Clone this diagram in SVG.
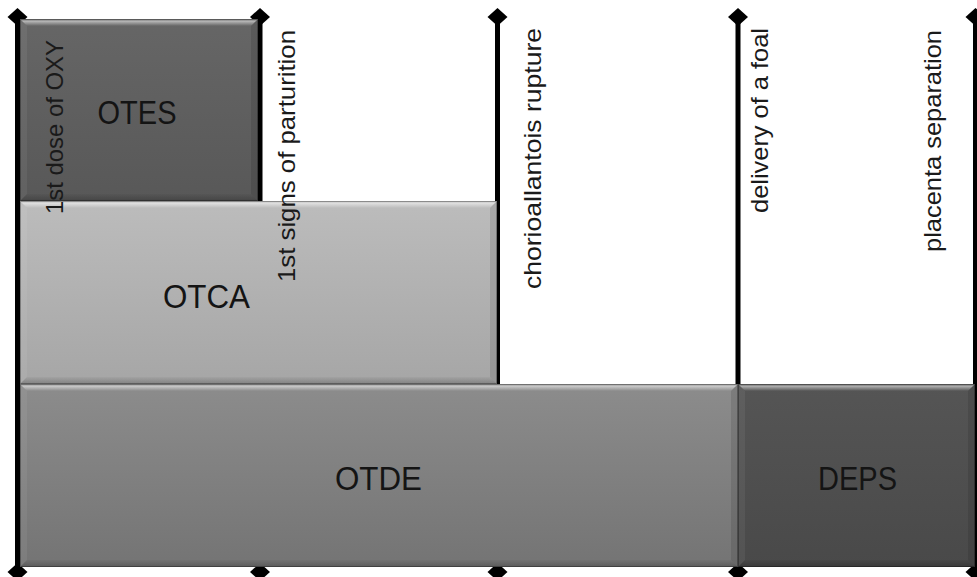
<svg xmlns="http://www.w3.org/2000/svg" width="977" height="577" viewBox="0 0 977 577">
  <defs>
    <linearGradient id="gOTES" x1="0" y1="0" x2="0" y2="1">
      <stop offset="0" stop-color="#666666"/>
      <stop offset="1" stop-color="#585858"/>
    </linearGradient>
    <linearGradient id="gOTCA" x1="0" y1="0" x2="0" y2="1">
      <stop offset="0" stop-color="#bcbcbc"/>
      <stop offset="1" stop-color="#a6a6a6"/>
    </linearGradient>
    <linearGradient id="gOTDE" x1="0" y1="0" x2="0" y2="1">
      <stop offset="0" stop-color="#8c8c8c"/>
      <stop offset="1" stop-color="#747474"/>
    </linearGradient>
    <linearGradient id="gDEPS" x1="0" y1="0" x2="0" y2="1">
      <stop offset="0" stop-color="#555555"/>
      <stop offset="1" stop-color="#494949"/>
    </linearGradient>
    <linearGradient id="hlTop" x1="0" y1="0" x2="0" y2="1">
      <stop offset="0" stop-color="#ffffff" stop-opacity="0.1"/>
      <stop offset="0.35" stop-color="#ffffff" stop-opacity="0.5"/>
      <stop offset="1" stop-color="#ffffff" stop-opacity="0"/>
    </linearGradient>
    <linearGradient id="shBot" x1="0" y1="0" x2="0" y2="1">
      <stop offset="0" stop-color="#000000" stop-opacity="0.03"/>
      <stop offset="1" stop-color="#000000" stop-opacity="0.22"/>
    </linearGradient>
    <marker id="diamond" markerUnits="userSpaceOnUse" markerWidth="22" markerHeight="20" refX="11" refY="10" orient="0" viewBox="0 0 22 20">
      <path d="M11 1 L21 10 L11 19 L1 10 Z" fill="#000"/>
    </marker>
  </defs>
  <style>
    .ev { stroke:#000; stroke-width:5; fill:none; marker-start:url(#diamond); marker-end:url(#diamond); }
    .edge { fill:none; stroke:#000; stroke-opacity:0.3; stroke-width:1; }
    .bt { fill:url(#hlTop); }
    .bl { fill:#ffffff; fill-opacity:0.06; }
    .br { fill:#000000; fill-opacity:0.1; }
    .bb { fill:url(#shBot); }
    .lbl { font-family:"Liberation Sans", Arial, sans-serif; font-size:33px; fill:#141414; text-anchor:middle; }
    .evl { font-family:"Liberation Sans", Arial, sans-serif; font-size:24px; fill:#1a1a1a; }
  </style>

  <g id="connectors">
    <line class="ev" x1="17.5" y1="17" x2="17.5" y2="572"/>
    <line class="ev" x1="260" y1="17" x2="260" y2="572"/>
    <line class="ev" x1="497.5" y1="17" x2="497.5" y2="572"/>
    <line class="ev" x1="738" y1="17" x2="738" y2="572"/>
    <line class="ev" x1="975.5" y1="17" x2="975.5" y2="572"/>
  </g>

  <g id="node-OTES">
    <rect x="20" y="19" width="238" height="182" fill="url(#gOTES)"/>
    <polygon class="bt" points="20,19 258,19 251,26 27,26"/>
    <polygon class="bl" points="20,19 27,26 27,194 20,201"/>
    <polygon class="br" points="258,19 258,201 251,194 251,26"/>
    <polygon class="bb" points="20,201 27,194 251,194 258,201"/>
    <rect class="edge" x="20.5" y="19.5" width="237" height="181"/>
    <text class="lbl" x="137" y="124" textLength="79" lengthAdjust="spacingAndGlyphs">OTES</text>
  </g>

  <g id="node-OTCA">
    <rect x="20" y="201" width="477" height="183" fill="url(#gOTCA)"/>
    <polygon class="bt" points="20,201 497,201 490,208 27,208"/>
    <polygon class="bl" points="20,201 27,208 27,377 20,384"/>
    <polygon class="br" points="497,201 497,384 490,377 490,208"/>
    <polygon class="bb" points="20,384 27,377 490,377 497,384"/>
    <rect class="edge" x="20.5" y="201.5" width="476" height="182"/>
    <text class="lbl" x="206.5" y="308" textLength="87" lengthAdjust="spacingAndGlyphs">OTCA</text>
  </g>

  <g id="node-OTDE">
    <rect x="20" y="384" width="718" height="183" fill="url(#gOTDE)"/>
    <polygon class="bt" points="20,384 738,384 731,391 27,391"/>
    <polygon class="bl" points="20,384 27,391 27,560 20,567"/>
    <polygon class="br" points="738,384 738,567 731,560 731,391"/>
    <polygon class="bb" points="20,567 27,560 731,560 738,567"/>
    <rect class="edge" x="20.5" y="384.5" width="717" height="182"/>
    <text class="lbl" x="378.5" y="490" textLength="87" lengthAdjust="spacingAndGlyphs">OTDE</text>
  </g>

  <g id="node-DEPS">
    <rect x="738" y="384" width="237" height="183" fill="url(#gDEPS)"/>
    <polygon class="bt" points="738,384 975,384 968,391 745,391"/>
    <polygon class="bl" points="738,384 745,391 745,560 738,567"/>
    <polygon class="br" points="975,384 975,567 968,560 968,391"/>
    <polygon class="bb" points="738,567 745,560 968,560 975,567"/>
    <rect class="edge" x="738.5" y="384.5" width="236" height="182"/>
    <text class="lbl" x="857.5" y="490" textLength="79" lengthAdjust="spacingAndGlyphs">DEPS</text>
  </g>

  <g id="event-labels">
    <text class="evl" transform="translate(63,214) rotate(-90)" textLength="174" lengthAdjust="spacingAndGlyphs">1st dose of OXY</text>
    <text class="evl" transform="translate(295,282) rotate(-90)" textLength="252" lengthAdjust="spacingAndGlyphs">1st signs of parturition</text>
    <text class="evl" transform="translate(541,289) rotate(-90)" textLength="261" lengthAdjust="spacingAndGlyphs">chorioallantois rupture</text>
    <text class="evl" transform="translate(768,213) rotate(-90)" textLength="185" lengthAdjust="spacingAndGlyphs">delivery of a foal</text>
    <text class="evl" transform="translate(941,252) rotate(-90)" textLength="222" lengthAdjust="spacingAndGlyphs">placenta separation</text>
  </g>
</svg>
